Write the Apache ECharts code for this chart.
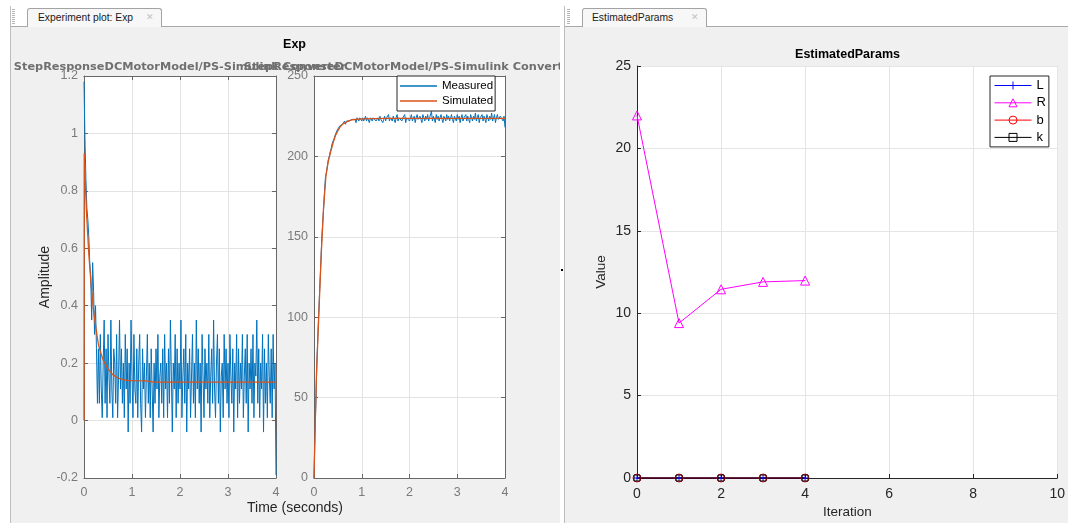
<!DOCTYPE html>
<html><head><meta charset="utf-8">
<script src="https://cdn.jsdelivr.net/npm/echarts@6.0.0/dist/echarts.min.js"></script>
<style>
html,body{margin:0;padding:0;width:1068px;height:523px;overflow:hidden;background:#fff;font-family:'Liberation Sans',Arial,sans-serif}
.abs{position:absolute;box-sizing:border-box}
.panel{background:#f0f0f0;border-top:1px solid #a9a9a9;border-left:1px solid #bdbdbd}
.grip{width:3px;height:16px;top:9px;background:repeating-linear-gradient(#b5b5b5 0 1px,transparent 1px 2px)}
.vline{width:1px;top:6px;height:21px;background:#bdbdbd}
.tab{top:8px;height:19px;border:1px solid #a3a3a3;border-bottom:none;border-radius:3px 3px 0 0;background:#f7f7f7;font-size:10.3px;line-height:17px;color:#1a1a1a;white-space:nowrap}
.close{position:absolute;top:0;font-size:9px;color:#c2c2c2;font-family:'DejaVu Sans',sans-serif}
#chartL{left:0;top:0;width:560px;height:523px;z-index:3}
#chartR{left:560px;top:0;width:508px;height:523px;z-index:3}
</style></head>
<body>
<div class="abs panel" style="left:10px;top:26px;width:550px;height:497px"></div>
<div class="abs panel" style="left:564px;top:26px;width:504px;height:497px"></div>
<div class="abs vline" style="left:10px"></div>
<div class="abs vline" style="left:564px"></div>
<div class="abs grip" style="left:12px"></div>
<div class="abs grip" style="left:567px"></div>
<div class="abs tab" style="left:27px;width:135px;padding-left:10px">Experiment plot: Exp<span class="close" style="left:118px">✕</span></div>
<div class="abs tab" style="left:582px;width:125px;padding-left:9px">EstimatedParams<span class="close" style="left:108px">✕</span></div>
<div class="abs" style="left:561px;top:269px;width:2px;height:2px;background:#000"></div>
<div id="chartL" class="abs"></div>
<div id="chartR" class="abs"></div>
<script>
// ---------------- data ----------------
const sampleTime = 0.02; // seconds between measured samples

// Measured motor current (Amplitude), one value every sampleTime, t = 0 .. 4 s
const currentMeasured = [
  1.18, 0.98, 0.84, 0.74, 0.70, 0.64, 0.55, 0.50, 0.35, 0.55, 0.45, 0.30, 0.40, 0.25, 0.06,
  0.25, 0.06, 0.3, 0.11, 0.01, 0.2, 0.35, 0.06, 0.25, 0.01,
  0.3, 0.155, 0.06, 0.35, 0.11, 0.01, 0.25, 0.2, 0.06, 0.3,
  0.01, 0.155, 0.35, 0.11, 0.25, 0.06, 0.2, 0.01, 0.3, 0.11,
  0.25, -0.04, 0.2, 0.06, 0.35, 0.155, 0.01, 0.3, 0.11, 0.06,
  0.25, 0.01, 0.2, 0.3, 0.06, -0.04, 0.25, 0.11, 0.2, 0.01,
  0.155, 0.3, 0.06, 0.2, 0.01, 0.25, 0.11, -0.04, 0.2, 0.06,
  0.25, 0.11, 0.3, 0.01, 0.155, 0.2, 0.06, 0.25, 0.01, 0.3,
  0.11, 0.2, 0.01, 0.25, 0.06, 0.35, 0.155, -0.04, 0.2, 0.11,
  0.3, 0.01, 0.25, 0.06, 0.2, 0.11, 0.35, 0.01, 0.155, 0.25,
  0.06, 0.3, -0.04, 0.2, 0.11, 0.25, 0.01, 0.155, 0.3, 0.06,
  0.2, 0.01, 0.35, 0.11, 0.25, 0.06, 0.2, -0.04, 0.3, 0.155,
  0.01, 0.25, 0.11, 0.2, 0.06, 0.3, 0.01, 0.155, 0.25, 0.06,
  0.35, 0.11, 0.01, 0.2, 0.3, 0.06, 0.25, -0.04, 0.155, 0.2,
  0.01, 0.3, 0.11, 0.25, 0.06, 0.2, 0.01, 0.3, 0.155, 0.06,
  0.25, -0.04, 0.2, 0.11, 0.3, 0.01, 0.25, 0.06, 0.2, 0.11,
  0.3, 0.01, 0.155, 0.25, 0.06, 0.3, -0.04, 0.2, 0.11, 0.25,
  0.06, 0.3, 0.01, 0.2, 0.155, 0.35, 0.06, 0.25, 0.01, 0.2,
  0.11, 0.3, -0.04, 0.25, 0.06, 0.2, 0.01, 0.3, 0.155, 0.06,
  0.25, 0.01, 0.3, 0.11, 0.2,
  -0.19
];

// Simulated motor current
const simCurrentTime = [0, 0.005, 0.05, 0.1, 0.15, 0.2, 0.25, 0.3, 0.35, 0.4, 0.5, 0.6, 0.7, 0.8, 0.9, 1.0, 1.3, 1.45, 2, 3, 4];
const simCurrent     = [0, 0.93, 0.73, 0.58, 0.47, 0.38, 0.32, 0.265, 0.235, 0.21, 0.18, 0.16, 0.149, 0.143, 0.14, 0.139, 0.138, 0.134, 0.134, 0.134, 0.134];

// Measured motor speed, one value every sampleTime, t = 0 .. 4 s
const speedMeasured = [
  0, 28, 47, 72, 88, 103, 118, 131, 147, 158, 167, 178, 187, 190, 194, 198, 200, 203, 205, 208,
  209, 211, 213, 214, 216, 217, 217, 219, 218, 220, 220, 221, 222, 220, 222, 221, 223, 222, 223, 221, 223,
  222, 224, 223, 221, 224, 223, 222, 224, 223, 222,
  224, 222, 223, 225, 222, 224, 223, 221, 224, 223,
  222, 224, 223, 225, 222, 223, 224, 222, 225, 223,
  224, 221, 223, 225, 222, 224, 223, 226, 222, 224,
  223, 222, 225, 223, 221, 224, 226, 222, 224, 223,
  225, 222, 224, 223, 226, 221, 224, 223, 225, 222,
  224, 226, 222, 223, 225, 221, 224, 226, 223, 222,
  225, 223, 221, 226, 224, 222, 225, 223, 226, 222,
  224, 223, 228, 222, 225, 224, 221, 226, 223, 225,
  222, 224, 226, 223, 221, 225, 224, 222, 226, 223,
  225, 222, 224, 226, 223, 221, 225, 224, 222, 226,
  223, 225, 221, 224, 226, 222, 224, 223, 226, 222,
  225, 223, 221, 226, 224, 222, 225, 223, 227, 222,
  224, 226, 221, 224, 223, 226, 222, 225, 223, 221,
  226, 224, 222, 225, 223, 227, 222, 224, 226, 221,
  224, 226, 223, 222, 225, 224, 226, 222, 225, 218
];

// Simulated motor speed
const simSpeedTime = [0, 0.02, 0.05, 0.1, 0.15, 0.2, 0.25, 0.3, 0.35, 0.4, 0.45, 0.5, 0.55, 0.6, 0.7, 0.8, 1.0, 1.5, 2, 3, 4];
const simSpeed     = [0, 26, 63, 101, 138, 168, 188, 197, 203, 208.5, 213, 216, 218.5, 220, 221.8, 222.8, 223.3, 223.6, 223.6, 223.6, 223.6];

// Estimated parameters per iteration
const iterations = [0, 1, 2, 3, 4];
const paramL = [0, 0, 0, 0, 0];
const paramR = [22.0, 9.4, 11.45, 11.9, 11.98];
const paramB = [0, 0, 0, 0, 0];
const paramK = [0, 0, 0, 0, 0];

// ---------------- helpers ----------------
const FONT = "'Liberation Sans', Arial, sans-serif";
const BLUE = '#0072BD', ORANGE = '#D95319';
const pairs = (xs, ys) => ys.map((v, i) => [xs[i], v]);
const sampled = ys => ys.map((v, i) => [Math.round(i * sampleTime * 1000) / 1000, v]);

const axisGray = '#676767', labelGray = '#7a7a7a', gridGray = '#e3e3e3';
function leftX(gi, pos) {
  const main = pos === 'bottom';
  return {
    type: 'value', gridIndex: gi, position: pos, min: 0, max: 4, interval: 1,
    axisLine: { show: true, onZero: false, lineStyle: { color: axisGray, width: 1 } },
    axisTick: { show: true, inside: true, length: 4, lineStyle: { color: axisGray } },
    axisLabel: { show: main, color: labelGray, fontSize: 12.5, fontFamily: FONT, margin: 8 },
    splitLine: { show: main, lineStyle: { color: gridGray, width: 1 } }
  };
}
function leftY(gi, pos, min, max, interval) {
  const main = pos === 'left';
  return {
    type: 'value', gridIndex: gi, position: pos, min, max, interval,
    axisLine: { show: true, onZero: false, lineStyle: { color: axisGray, width: 1 } },
    axisTick: { show: true, inside: true, length: 4, lineStyle: { color: axisGray } },
    axisLabel: { show: main, color: labelGray, fontSize: 12.5, fontFamily: FONT, margin: 6,
                 formatter: v => String(Math.round(v * 100) / 100) },
    splitLine: { show: main, lineStyle: { color: gridGray, width: 1 } }
  };
}
const lineIcon = 'path://M0,0H40V1.6H0Z';

function txt(x, y, text, font, fill, rot) {
  return { type: 'text', x, y, rotation: rot || 0, z: 50,
    style: { text, font, fill, textAlign: 'center', textVerticalAlign: 'middle', align: 'center', verticalAlign: 'middle' } };
}

// ---------------- left chart ----------------
const chartL = echarts.init(document.getElementById('chartL'), null, { renderer: 'canvas' });
chartL.setOption({
  animation: false,
  backgroundColor: 'transparent',
  grid: [
    { left: 84, top: 76, width: 192, height: 402, show: true, backgroundColor: '#fff', borderWidth: 0 },
    { left: 314, top: 76, width: 191, height: 402, show: true, backgroundColor: '#fff', borderWidth: 0 }
  ],
  xAxis: [leftX(0, 'bottom'), leftX(0, 'top'), leftX(1, 'bottom'), leftX(1, 'top')],
  yAxis: [leftY(0, 'left', -0.2, 1.2, 0.2), leftY(0, 'right', -0.2, 1.2, 0.2),
          leftY(1, 'left', 0, 250, 50), leftY(1, 'right', 0, 250, 50)],
  legend: {
    left: 397, top: 76, orient: 'vertical', selectedMode: false,
    data: [{ name: 'Measured', icon: lineIcon }, { name: 'Simulated', icon: lineIcon }],
    itemWidth: 37, itemHeight: 12, itemGap: 3,
    padding: [4, 2, 4, 3],
    backgroundColor: '#fff', borderColor: '#262626', borderWidth: 1, borderRadius: 0,
    textStyle: { fontSize: 11.5, color: '#000', fontFamily: FONT }
  },
  graphic: [
    txt(294.5, 45, 'Exp', "bold 12.5px 'Liberation Sans', Arial", '#000'),
    txt(180, 67, 'StepResponseDCMotorModel/PS-Simulink Converter', "bold 11.3px 'DejaVu Sans'", '#6f6f6f'),
    txt(410, 67, 'StepResponseDCMotorModel/PS-Simulink Converter', "bold 11.3px 'DejaVu Sans'", '#6f6f6f'),
    txt(45, 277, 'Amplitude', "14px 'Liberation Sans', Arial", '#262626', Math.PI / 2),
    txt(295, 508, 'Time (seconds)', "14px 'Liberation Sans', Arial", '#262626')
  ],
  series: [
    { name: 'Measured', type: 'line', xAxisIndex: 0, yAxisIndex: 0, data: sampled(currentMeasured),
      symbol: 'none', lineStyle: { color: BLUE, width: 1 }, itemStyle: { color: BLUE } },
    { name: 'Simulated', type: 'line', xAxisIndex: 0, yAxisIndex: 0, data: pairs(simCurrentTime, simCurrent),
      symbol: 'none', lineStyle: { color: ORANGE, width: 1.3 }, itemStyle: { color: ORANGE } },
    { name: 'Measured', type: 'line', xAxisIndex: 2, yAxisIndex: 2, data: sampled(speedMeasured),
      symbol: 'none', lineStyle: { color: BLUE, width: 1 }, itemStyle: { color: BLUE } },
    { name: 'Simulated', type: 'line', xAxisIndex: 2, yAxisIndex: 2, data: pairs(simSpeedTime, simSpeed),
      symbol: 'none', lineStyle: { color: ORANGE, width: 1.3 }, itemStyle: { color: ORANGE } }
  ]
});

// ---------------- right chart ----------------
const dark = '#262626';
const chartR = echarts.init(document.getElementById('chartR'), null, { renderer: 'canvas' });
const plusPath = 'path://M4.4,0H5.6V4.4H10V5.6H5.6V10H4.4V5.6H0V4.4H4.4Z';
function paramSeries(name, ys, color, symbol, size) {
  return {
    name, type: 'line', data: pairs(iterations, ys), clip: false,
    symbol, symbolSize: size, showSymbol: true,
    lineStyle: { color, width: 1 },
    itemStyle: symbol === plusPath ? { color, borderWidth: 0 }
                                   : { color: 'rgba(255,255,255,0)', borderColor: color, borderWidth: 1 }
  };
}
chartR.setOption({
  animation: false,
  backgroundColor: 'transparent',
  grid: { left: 77, top: 66, width: 421, height: 412, show: true, backgroundColor: '#fff', borderWidth: 0 },
  xAxis: {
    type: 'value', min: 0, max: 10, interval: 2,
    axisLine: { onZero: false, lineStyle: { color: dark, width: 1 } },
    axisTick: { inside: true, length: 4, lineStyle: { color: dark } },
    axisLabel: { color: dark, fontSize: 14, fontFamily: FONT, margin: 9 },
    splitLine: { show: true, lineStyle: { color: '#e5e5e5' } }
  },
  yAxis: {
    type: 'value', min: 0, max: 25, interval: 5,
    axisLine: { show: true, onZero: false, lineStyle: { color: dark, width: 1 } },
    axisTick: { show: true, inside: true, length: 4, lineStyle: { color: dark } },
    axisLabel: { color: dark, fontSize: 14, fontFamily: FONT, margin: 6 },
    splitLine: { show: true, lineStyle: { color: '#e5e5e5' } }
  },
  legend: {
    left: 430, top: 76, orient: 'vertical', selectedMode: false,
    data: ['L', 'R', 'b', 'k'],
    itemWidth: 37, itemHeight: 10, itemGap: 4.3,
    padding: [3, 3, 3, 4],
    lineStyle: { width: 1 },
    itemStyle: { borderWidth: 1 },
    backgroundColor: '#fff', borderColor: dark, borderWidth: 1, borderRadius: 0,
    textStyle: { fontSize: 13, color: '#000', fontFamily: FONT }
  },
  graphic: [
    txt(287.5, 55, 'EstimatedParams', "bold 12.5px 'Liberation Sans', Arial", '#000'),
    txt(41.7, 272, 'Value', "13.5px 'Liberation Sans', Arial", dark, Math.PI / 2),
    txt(287.3, 512.5, 'Iteration', "13.5px 'Liberation Sans', Arial", dark)
  ],
  series: [
    paramSeries('L', paramL, '#0000ff', plusPath, 7),
    paramSeries('R', paramR, '#ff00ff', 'triangle', 9),
    paramSeries('b', paramB, '#ff0000', 'circle', 8),
    paramSeries('k', paramK, '#000000', 'rect', 6)
  ]
});
</script>
</body></html>
